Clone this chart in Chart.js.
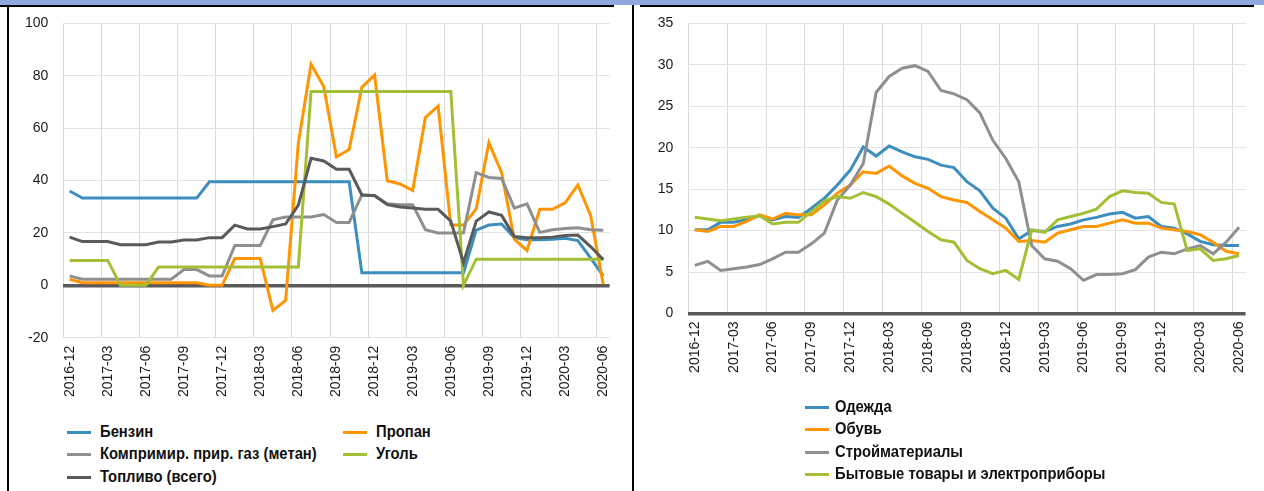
<!DOCTYPE html>
<html>
<head>
<meta charset="utf-8">
<script src="https://cdn.jsdelivr.net/npm/chart.js@4.4.1/dist/chart.umd.min.js"></script>
<style>
  body { margin: 0; width: 1264px; height: 491px; background: #fff; overflow: hidden; position: relative; font-family: "Liberation Sans", Arial, sans-serif; }
  .band { position: absolute; left: 0; top: 0; width: 1264px; height: 5px; background: #8EA9DB; }
  .hline { position: absolute; top: 5px; height: 2px; background: #000; }
  .vline { position: absolute; width: 2px; background: #000; }
  .box { position: absolute; }
  .legend { position: absolute; font-family: "Liberation Sans Narrow", "Liberation Sans", Arial, sans-serif; font-size: 17px; font-weight: bold; color: #111; }
  .item { position: absolute; white-space: nowrap; }
  .item i { position: absolute; top: 50%; width: 24px; height: 3px; margin-top: -1px; }
  .item span { position: absolute; top: 50%; transform: translateY(-50%) scaleX(0.87); transform-origin: left center; }
</style>
</head>
<body>
<div class="band"></div>
<div class="hline" style="left:0;width:614px"></div>
<div class="hline" style="left:640px;width:614px"></div>
<div class="vline" style="left:7px;top:6px;height:485px"></div>
<div class="vline" style="left:632px;top:5px;height:486px"></div>

<div class="box" style="left:0;top:0;width:632px;height:410px"><canvas id="fuelChart"></canvas></div>
<div class="box" style="left:634px;top:0;width:630px;height:400px"><canvas id="goodsChart"></canvas></div>
<div class="legend" id="fuelLegend"></div>
<div class="legend" id="goodsLegend"></div>

<script>
// months 2016-12 .. 2020-06
const months = ["2016-12", "2017-01", "2017-02", "2017-03", "2017-04", "2017-05", "2017-06", "2017-07", "2017-08", "2017-09", "2017-10", "2017-11",
    "2017-12", "2018-01", "2018-02", "2018-03", "2018-04", "2018-05", "2018-06", "2018-07", "2018-08", "2018-09", "2018-10", "2018-11",
    "2018-12", "2019-01", "2019-02", "2019-03", "2019-04", "2019-05", "2019-06", "2019-07", "2019-08", "2019-09", "2019-10", "2019-11",
    "2019-12", "2020-01", "2020-02", "2020-03", "2020-04", "2020-05", "2020-06"];

// left chart - fuel
const benzin = [36, 33.3, 33.3, 33.3, 33.3, 33.3, 33.3, 33.3, 33.3, 33.3, 33.3, 39.5, 39.5, 39.5, 39.5, 39.5, 39.5, 39.5, 39.5, 39.5, 39.5, 39.5, 39.5,
    4.8, 4.8, 4.8, 4.8, 4.8, 4.8, 4.8, 4.8, 4.8, 21.1, 23, 23.4, 18.2, 17.4, 17.4, 17.6, 18, 17.1, 10.5, 3.6];
const propan = [2.3, 1, 1, 1, 1, 1, 1, 1, 1, 1, 1, 0, 0, 10.2, 10.2, 10.2, -9.6, -5.8, 54.3, 84.4, 75.9, 49, 51.8, 75.6, 80.3, 39.9, 38.7, 36.2,
    64.1, 68.4, 23, 23, 29.2, 54.5, 43, 17.6, 13.3, 29, 29, 31.5, 38.3, 26.8, 0.4];
const metan = [3.6, 2.3, 2.3, 2.3, 2.3, 2.3, 2.3, 2.3, 2.3, 6, 6, 3.6, 3.6, 15.2, 15.2, 15.2, 25, 26.1, 26.1, 26.1, 27, 24, 24, 34.5, 34.2, 31.1,
    30.8, 30.8, 21.2, 20, 20, 20, 43, 41.2, 40.8, 29.5, 31.1, 20.2, 21.2, 21.7, 22, 21.2, 21];
const ugol = [9.5, 9.5, 9.5, 9.5, 0, 0, 0, 7, 7, 7, 7, 7, 7, 7, 7, 7, 7, 7, 7, 74, 74, 74, 74, 74, 74, 74, 74, 74, 74, 74, 74, 0,
    10, 10, 10, 10, 10, 10, 10, 10, 10, 10, 10];
const toplivo = [18.4, 16.7, 16.7, 16.7, 15.5, 15.5, 15.5, 16.5, 16.5, 17.3, 17.3, 18.2, 18.2, 23, 21.5, 21.5, 22.4, 23.4, 30.6, 48.5, 47.5,
    44.3, 44.3, 34.5, 34.3, 30.8, 29.9, 29.5, 29, 29, 24.5, 8.6, 24.5, 28, 26.7, 18.6, 18.2, 18.2, 18.4, 19, 19.2, 14.8, 9.8];

// right chart - goods
const odezhda = [10.1, 10.1, 11, 11, 11.3, 11.8, 11.3, 11.7, 11.6, 12.7, 13.9, 15.5, 17.3, 20.1, 19, 20.2, 19.5, 18.9, 18.6, 17.9, 17.6, 15.9,
    14.8, 12.7, 11.5, 9, 10, 9.9, 10.5, 10.8, 11.3, 11.6, 12, 12.2, 11.5, 11.7, 10.5, 10.3, 9.6, 8.7, 8.3, 8.2, 8.2];
const obuv = [10.1, 9.9, 10.5, 10.5, 11.1, 11.9, 11.4, 12.1, 11.9, 11.9, 13.1, 14.5, 15.5, 17.1, 16.9, 17.8, 16.6, 15.7, 15.1, 14.1, 13.7, 13.4,
    12.3, 11.3, 10.3, 8.7, 8.8, 8.6, 9.7, 10.1, 10.5, 10.5, 10.9, 11.3, 10.9, 10.9, 10.3, 10.1, 9.9, 9.5, 8.6, 7.5, 7.2];
const stroy = [5.8, 6.3, 5.2, 5.4, 5.6, 5.9, 6.6, 7.4, 7.4, 8.4, 9.7, 13.7, 15.5, 18.1, 26.7, 28.6, 29.6, 29.9, 29.2, 26.9, 26.5, 25.8, 24.2,
    20.9, 18.7, 15.9, 8.2, 6.6, 6.3, 5.4, 4, 4.7, 4.7, 4.8, 5.3, 6.8, 7.4, 7.2, 7.8, 8.2, 7.2, 8.6, 10.4];
const bytovye = [11.6, 11.4, 11.2, 11.4, 11.6, 11.8, 10.8, 11, 11, 12.3, 13.6, 14.1, 13.9, 14.6, 14.1, 13.2, 12.1, 11, 9.9, 8.9, 8.6, 6.4, 5.4,
    4.8, 5.2, 4.1, 10.1, 9.8, 11.3, 11.7, 12.1, 12.6, 14.1, 14.8, 14.6, 14.5, 13.4, 13.2, 7.6, 7.8, 6.4, 6.6, 7];

const fuelLabels = ["Бензин", "Пропан", "Компримир. прир. газ (метан)", "Уголь", "Топливо (всего)"];
const goodsLabels = ["Одежда", "Обувь", "Стройматериалы", "Бытовые товары и электроприборы"];

const BLUE = "#3D8DBF", ORANGE = "#FF9500", GRAY = "#8F8F8F", GREEN = "#A3BF35", DARK = "#5A5A5A";
const fuelColors = [BLUE, ORANGE, GRAY, GREEN, DARK];
const goodsColors = [BLUE, ORANGE, GRAY, GREEN];

function makeDatasets(series, labels, colors) {
    return series.map((s, i) => ({
        label: labels[i],
        data: s,
        borderColor: colors[i],
        backgroundColor: colors[i],
        borderWidth: 3,
        pointRadius: 0,
        tension: 0,
        fill: false,
        order: series.length - i   // later series on top, like excel
    }));
}

function makeOptions(min, max, step, yWidth, pad) {
    return {
        responsive: true,
        maintainAspectRatio: false,
        animation: false,
        layout: { padding: pad },
        plugins: { legend: { display: false }, tooltip: { enabled: false } },
        scales: {
            x: {
                offset: true,
                border: { display: false },
                grid: {
                    offset: true,
                    drawTicks: false,
                    color: ctx => (ctx.index % 3 === 0 || ctx.index === months.length) ? "#D9D9D9" : "rgba(0,0,0,0)",
                    lineWidth: 1
                },
                ticks: {
                    autoSkip: false,
                    maxRotation: 90,
                    minRotation: 90,
                    padding: 8,
                    color: "#1a1a1a",
                    font: { family: "'Liberation Sans', Arial", size: 14 },
                    callback: (v, i) => i % 3 === 0 ? months[i] : ""
                },
                afterFit: s => { s.height = 60; }
            },
            y: {
                min: min,
                max: max,
                border: { display: false },
                grid: {
                    drawTicks: false,
                    color: ctx => ctx.tick && ctx.tick.value === 0 ? DARK : "#E3E3E3",
                    lineWidth: ctx => ctx.tick && ctx.tick.value === 0 ? 3.5 : 1
                },
                ticks: {
                    stepSize: step,
                    padding: 15,
                    color: "#1a1a1a",
                    font: { family: "'Liberation Sans', Arial", size: 14 }
                },
                afterFit: s => { s.width = yWidth; }
            }
        }
    };
}

// nudge the padding so the plot area sits where it is in the original
function fitArea(chart, t) {
    const a = chart.chartArea;
    const p = chart.options.layout.padding;
    p.top += t.top - a.top;
    p.left += t.left - a.left;
    p.right += a.right - t.right;
    p.bottom += a.bottom - t.bottom;
    chart.update();
}

const fuelChart = new Chart(document.getElementById("fuelChart"), {
    type: "line",
    data: { labels: months, datasets: makeDatasets([benzin, propan, metan, ugol, toplivo], fuelLabels, fuelColors) },
    options: makeOptions(-20, 100, 20, 63.3, { top: 18.5, right: 22.4, left: 0, bottom: 12.3 })
});
fitArea(fuelChart, { left: 63.3, top: 18.5, right: 609.6, bottom: 337.7 });

const goodsChart = new Chart(document.getElementById("goodsChart"), {
    type: "line",
    data: { labels: months, datasets: makeDatasets([odezhda, obuv, stroy, bytovye], goodsLabels, goodsColors) },
    options: makeOptions(0, 35, 5, 54.3, { top: 19.5, right: 14.7, left: 0, bottom: 26.5 })
});
fitArea(goodsChart, { left: 54.3, top: 19.5, right: 615.3, bottom: 313.5 });

// legends (html, same look as the excel ones)
function buildLegend(id, labels, colors, spots, gap) {
    const el = document.getElementById(id);
    labels.forEach((txt, i) => {
        const it = document.createElement("div");
        it.className = "item";
        it.style.left = spots[i][0] + "px";
        it.style.top = spots[i][1] + "px";
        it.innerHTML = '<i style="left:0;background:' + colors[i] + '"></i><span style="left:' + gap + 'px">' + txt + '</span>';
        el.appendChild(it);
    });
}
buildLegend("fuelLegend", fuelLabels, fuelColors, [[67, 432], [343, 432], [67, 454], [343, 454], [67, 477]], 33);
buildLegend("goodsLegend", goodsLabels, goodsColors, [[805, 407], [805, 429], [805, 452], [805, 474]], 30);
</script>
</body>
</html>
